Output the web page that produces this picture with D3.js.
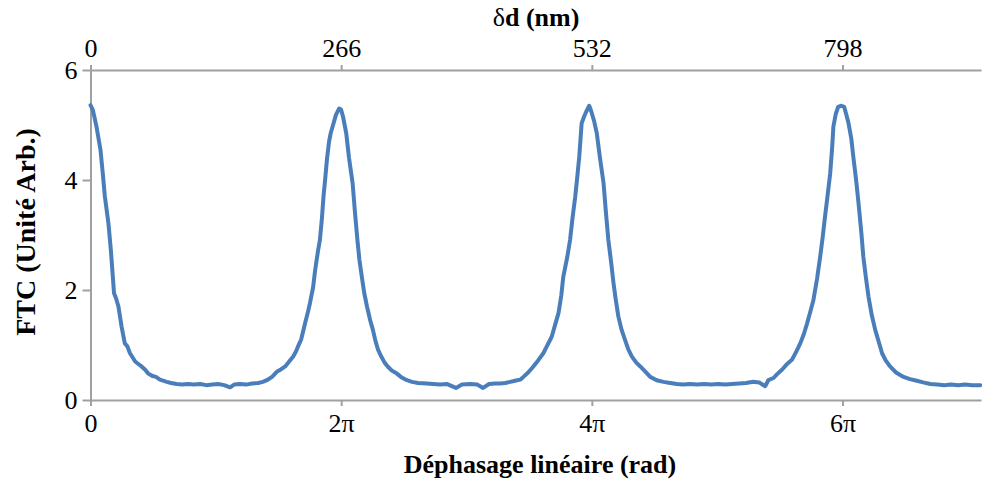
<!DOCTYPE html>
<html>
<head>
<meta charset="utf-8">
<script src="https://cdn.jsdelivr.net/npm/d3@7"></script>
<style>
  html, body { margin: 0; padding: 0; background: #fff; }
  svg { display: block; }
  .axis text { font-family: "Liberation Serif", "Times New Roman", serif; font-size: 26px; fill: #000; }
  .axis path, .axis line { stroke: #a0a0a0; stroke-width: 2; }
  .title { font-family: "Liberation Serif", "Times New Roman", serif; font-weight: bold; fill: #000; }
</style>
</head>
<body>
<svg id="chart" width="982" height="488"></svg>
<script>
// Phase (rad)
const phase = [
  0, 0.06, 0.15, 0.25, 0.30, 0.36, 0.45, 0.51, 0.59, 0.64, 0.70, 0.78, 0.86, 0.92, 0.99,
  1.12, 1.19, 1.28, 1.37, 1.45, 1.54, 1.64, 1.74, 1.91, 2.02, 2.16, 2.29, 2.44, 2.59, 2.75,
  2.90, 3.05, 3.20, 3.35, 3.50, 3.60, 3.75, 3.90, 4.05, 4.20, 4.32, 4.42, 4.55, 4.68, 4.78,
  4.88, 4.98, 5.08, 5.15, 5.20, 5.28, 5.38, 5.45, 5.50, 5.58, 5.63, 5.70, 5.75, 5.80, 5.84,
  5.88, 5.93, 5.98, 6.02, 6.08, 6.15, 6.23, 6.28, 6.33, 6.41, 6.48, 6.57, 6.63, 6.69, 6.74,
  6.80, 6.86, 6.93, 7.01, 7.08, 7.14, 7.21, 7.28, 7.38, 7.46, 7.56, 7.68, 7.78, 7.93, 8.06,
  8.21, 8.43, 8.59, 8.76, 8.94, 9.16, 9.31, 9.51, 9.69, 9.84, 9.99, 10.14, 10.27, 10.39, 10.52,
  10.64, 10.77, 10.85, 10.97, 11.10, 11.22, 11.35, 11.44, 11.56, 11.65, 11.73, 11.80, 11.85, 11.95, 12.02,
  12.08, 12.15, 12.20, 12.25, 12.31, 12.37, 12.43, 12.50, 12.55, 12.62, 12.69, 12.77, 12.86, 12.92, 12.98,
  13.05, 13.11, 13.17, 13.23, 13.31, 13.40, 13.48, 13.57, 13.68, 13.78, 13.90, 14.03, 14.19, 14.36, 14.53,
  14.70, 14.85, 15.03, 15.20, 15.38, 15.56, 15.73, 15.91, 16.08, 16.26, 16.43, 16.61, 16.76, 16.91, 16.99,
  17.12, 17.21, 17.33, 17.44, 17.58, 17.69, 17.79, 17.88, 17.96, 18.04, 18.12, 18.21, 18.29, 18.35, 18.41,
  18.48, 18.54, 18.59, 18.62, 18.68, 18.74, 18.82, 18.89, 18.94, 19.00, 19.07, 19.12, 19.19, 19.25, 19.32,
  19.37, 19.44, 19.50, 19.58, 19.67, 19.76, 19.84, 19.93, 20.04, 20.19, 20.38, 20.54, 20.71, 20.87, 21.05,
  21.22, 21.40, 21.57, 21.75, 21.92, 22.10, 22.30
];
// FTC (arbitrary units)
const ftc = [
  5.36, 5.27, 4.97, 4.55, 4.18, 3.70, 3.21, 2.73, 1.94, 1.85, 1.70, 1.33, 1.03, 0.98, 0.85,
  0.70, 0.66, 0.61, 0.55, 0.48, 0.44, 0.42, 0.37, 0.33, 0.31, 0.29, 0.28, 0.29, 0.28, 0.29,
  0.27, 0.28, 0.29, 0.27, 0.23, 0.28, 0.29, 0.28, 0.30, 0.31, 0.33, 0.36, 0.42, 0.52, 0.56,
  0.61, 0.70, 0.79, 0.88, 0.97, 1.10, 1.40, 1.60, 1.76, 2.05, 2.36, 2.70, 2.91, 3.30, 3.70,
  4.00, 4.40, 4.70, 4.85, 5.00, 5.18, 5.30, 5.28, 5.15, 4.85, 4.40, 3.94, 3.40, 2.91, 2.55,
  2.24, 1.95, 1.70, 1.45, 1.27, 1.08, 0.91, 0.80, 0.67, 0.60, 0.53, 0.48, 0.42, 0.36, 0.33,
  0.31, 0.30, 0.29, 0.28, 0.29, 0.22, 0.28, 0.29, 0.28, 0.22, 0.29, 0.30, 0.30, 0.31, 0.33,
  0.35, 0.37, 0.42, 0.50, 0.61, 0.72, 0.85, 0.98, 1.15, 1.38, 1.58, 1.90, 2.24, 2.60, 2.91,
  3.30, 3.70, 4.05, 4.42, 5.03, 5.15, 5.25, 5.35, 5.25, 5.08, 4.85, 4.40, 3.94, 3.40, 2.91,
  2.50, 2.12, 1.80, 1.52, 1.28, 1.09, 0.92, 0.79, 0.68, 0.61, 0.52, 0.42, 0.36, 0.33, 0.31,
  0.29, 0.28, 0.29, 0.28, 0.29, 0.28, 0.29, 0.28, 0.29, 0.30, 0.31, 0.33, 0.32, 0.25, 0.36,
  0.40, 0.47, 0.55, 0.64, 0.73, 0.88, 1.03, 1.20, 1.39, 1.60, 1.82, 2.20, 2.61, 2.95, 3.33,
  3.75, 4.12, 4.60, 4.97, 5.20, 5.33, 5.35, 5.33, 5.20, 5.03, 4.75, 4.42, 4.00, 3.58, 3.05,
  2.61, 2.20, 1.88, 1.55, 1.27, 1.05, 0.85, 0.72, 0.61, 0.50, 0.42, 0.38, 0.35, 0.32, 0.29,
  0.28, 0.27, 0.28, 0.27, 0.28, 0.27, 0.27
];
const xTickValues = [0, 2 * Math.PI, 4 * Math.PI, 6 * Math.PI];
const xTickLabels = ["0", "2π", "4π", "6π"];
const yTickValues = [0, 2, 4, 6];
const topTickValues = [0, 266, 532, 798];
const nmPerCycle = 266;
const phaseMax = 22.32;

const svg = d3.select("#chart");
const mLeft = 90.5, mRight = 981, mTop = 70, mBottom = 400;

const x = d3.scaleLinear().domain([0, phaseMax]).range([mLeft, mRight]);
const xTop = d3.scaleLinear().domain([0, phaseMax * nmPerCycle / (2 * Math.PI)]).range([mLeft, mRight]);
const y = d3.scaleLinear().domain([0, 6]).range([mBottom, mTop]);

// Axes
svg.append("g").attr("class", "axis")
  .attr("transform", `translate(0,${mBottom})`)
  .call(d3.axisBottom(x).tickValues(xTickValues)
    .tickFormat((d, i) => xTickLabels[i]).tickSize(6).tickSizeOuter(0).tickPadding(8));

svg.append("g").attr("class", "axis")
  .attr("transform", `translate(0,${mTop})`)
  .call(d3.axisTop(xTop).tickValues(topTickValues)
    .tickFormat(d3.format("d")).tickSize(5).tickSizeOuter(0).tickPadding(8));

svg.append("g").attr("class", "axis")
  .attr("transform", `translate(${mLeft},0)`)
  .call(d3.axisLeft(y).tickValues(yTickValues)
    .tickFormat(d3.format("d")).tickSize(8).tickSizeOuter(0).tickPadding(5));

svg.selectAll(".axis").attr("font-family", null).attr("font-size", null);

// Data line
const pts = phase.map((p, i) => [p, ftc[i]]);
svg.append("path")
  .datum(pts)
  .attr("fill", "none")
  .attr("stroke", "#4a7ebb")
  .attr("stroke-width", 4)
  .attr("stroke-linejoin", "round")
  .attr("stroke-linecap", "round")
  .attr("d", d3.line().x(d => x(d[0])).y(d => y(d[1])));

// Titles
svg.append("text").attr("class", "title")
  .attr("x", 540).attr("y", 473).attr("text-anchor", "middle")
  .style("font-size", "26px")
  .text("Déphasage linéaire (rad)");

const topTitle = svg.append("text").attr("class", "title")
  .attr("x", 536).attr("y", 26).attr("text-anchor", "middle")
  .style("font-size", "26px");
topTitle.append("tspan").style("font-weight", "normal").text("δ");
topTitle.append("tspan").text("d (nm)");

svg.append("text").attr("class", "title")
  .attr("transform", "translate(35,232) rotate(-90)")
  .attr("text-anchor", "middle")
  .style("font-size", "28px")
  .text("FTC (Unité Arb.)");
</script>
</body>
</html>
